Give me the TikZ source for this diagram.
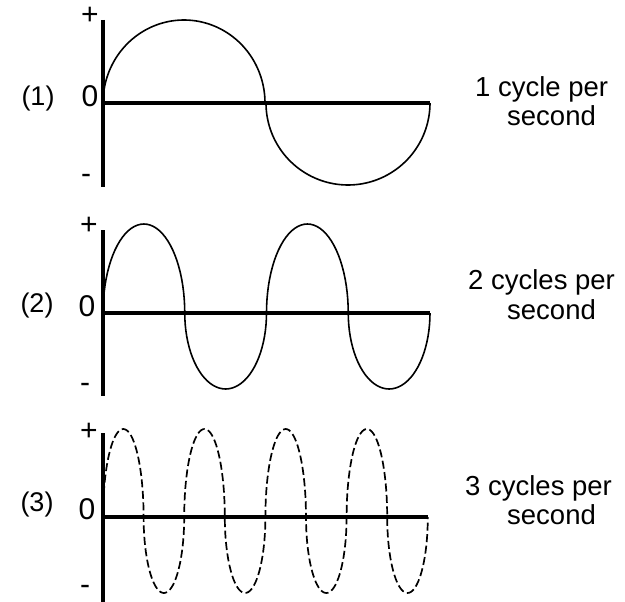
\documentclass[tikz,border=0pt]{standalone}
\usepackage{fontspec}
\setmainfont{Liberation Sans}
\begin{document}
\begin{tikzpicture}[x=1pt,y=-1pt,
  axis/.style={line width=3.6pt},
  wave/.style={line width=1.6pt},
  dwave/.style={line width=1.7pt,dash pattern=on 8pt off 3.5pt},
  lbl/.style={font=\fontsize{27}{30}\selectfont,inner sep=0pt},
  zero/.style={font=\fontsize{30}{32}\selectfont,inner sep=0pt},
  sgn/.style={font=\fontsize{30}{32}\selectfont,inner sep=0pt},
  txt/.style={font=\fontsize{27.5}{30}\selectfont,inner sep=0pt,anchor=base west}]
\useasboundingbox (0,0) rectangle (625,602);
% ---------- panel 1 ----------
\coordinate (a1t) at (103,20);
\coordinate (a1b) at (103,187);
\coordinate (h1s) at (103,103);
\coordinate (h1e) at (430,103);
\draw[wave] plot[domain=180:0,samples=80,variable=\t] ({184+81*cos(\t)},{103-83*sin(\t)});
\draw[wave] plot[domain=180:360,samples=80,variable=\t] ({348+82*cos(\t)},{103-82*sin(\t)});
\draw[axis] (a1t) -- (a1b);
\draw[axis] (h1s) -- (h1e);
\node[lbl] (n1) at (38,99) {(1)};
\node[zero] (z1) at (90,96) {0};
\node[sgn] (p1) at (90,16) {+};
\node[sgn] (m1) at (86,179) {-};
\node[txt] (t1a) at (475,97) {1 cycle per};
\node[txt] (t1b) at (507,125) {second};
% ---------- panel 2 ----------
\coordinate (a2t) at (103,230);
\coordinate (a2b) at (103,396);
\coordinate (h2s) at (103,313);
\coordinate (h2e) at (430,313);
\draw[wave] plot[domain=0:720,samples=161,variable=\t]
  ({103+81.75*floor(\t/180-0.0001*(\t>=720))+40.875*(1-cos(\t-180*floor(\t/180-0.0001*(\t>=720))))},
   {313-(sin(\t)>0 ? 89 : 76)*sin(\t)});
\draw[axis] (a2t) -- (a2b);
\draw[axis] (h2s) -- (h2e);
\node[lbl] (n2) at (37,306) {(2)};
\node[zero] (z2) at (87,306) {0};
\node[sgn] (p2) at (89,226) {+};
\node[sgn] (m2) at (85,388) {-};
\node[txt] (t2a) at (468,289) {2 cycles per};
\node[txt] (t2b) at (507,319) {second};
% ---------- panel 3 ----------
\coordinate (a3t) at (103,433);
\coordinate (a3b) at (103,602);
\coordinate (h3s) at (103,517);
\coordinate (h3e) at (428,517);
\draw[dwave] plot[domain=0:1440,samples=321,variable=\t]
  ({103+40.6*floor(\t/180-0.0001*(\t>=1440))+20.3*(1-cos(\t-180*floor(\t/180-0.0001*(\t>=1440))))},
   {517-(sin(\t)>0 ? 88 : 76)*sin(\t)});
\draw[axis] (a3t) -- (a3b);
\draw[axis] (h3s) -- (h3e);
\node[lbl] (n3) at (37,505) {(3)};
\node[zero] (z3) at (87,509) {0};
\node[sgn] (p3) at (89,432) {+};
\node[sgn] (m3) at (85,590) {-};
\node[txt] (t3a) at (465,495) {3 cycles per};
\node[txt] (t3b) at (507,524) {second};
\end{tikzpicture}
\end{document}
